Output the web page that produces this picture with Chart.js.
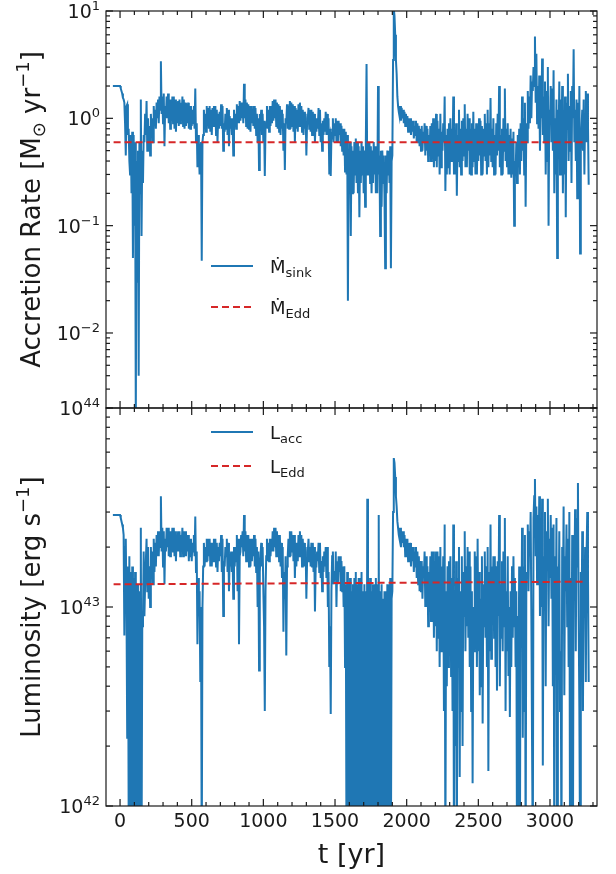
<!DOCTYPE html>
<html>
<head>
<meta charset="utf-8">
<script src="https://cdn.jsdelivr.net/npm/chart.js@4.4.0/dist/chart.umd.min.js"></script>
<style>
html, body { margin: 0; padding: 0; background: #fff; }
#wrap { position: relative; width: 616px; height: 874px; }
canvas { position: absolute; left: 0; top: 0; }
</style>
</head>
<body>
<div id="wrap">
  <canvas id="accChart" width="616" height="874"></canvas>
  <canvas id="lumChart" width="616" height="874"></canvas>
</div>
<script>
// time grid of the sink data [yr]
const T_START = -50, T_STEP = 5;

// accretion rate onto the sink [Msun/yr], one value every 5 yr (rows of 100 yr)
const mdotSink = [
  2.0,2.0,2.0,2.0,2.0,2.0,2.0,2.0,2.0,2.0,2.0,1.9,1.8,1.7,1.55,1.5,1.4,0.9,0.45,1.3,
  1.35,0.7,0.8,0.4,0.3,0.7,0.2,0.75,0.05,0.7,0.1,0.6,0.0015,0.4,0.03,0.5,0.004,0.6,0.2,1.5,
  0.08,0.5,0.25,0.7,0.6,1.1,0.7,1.45,0.5,1.0,0.55,0.85,0.45,1.1,0.7,1.0,0.6,1.3,0.9,1.2,
  0.8,1.4,1.0,1.5,0.9,1.6,1.2,3.4,1.1,1.6,0.9,1.7,0.55,1.3,1.0,1.6,1.0,1.7,0.9,1.5,
  0.8,1.5,0.95,1.6,0.9,1.6,0.8,1.5,0.75,1.4,0.9,1.45,0.85,1.5,0.9,1.4,1.0,1.6,0.85,1.5,
  0.8,1.4,0.85,1.35,0.9,1.4,0.8,1.3,0.8,1.3,0.85,1.2,0.9,1.3,0.8,1.9,0.6,0.9,0.35,0.7,
  0.5,0.3,0.45,0.6,0.047,0.6,0.7,1.2,0.8,1.1,0.75,1.3,0.85,1.25,0.8,1.3,0.75,1.2,0.7,1.25,
  0.85,1.3,0.9,1.3,0.7,1.2,0.6,1.1,0.8,1.15,0.85,1.35,0.8,1.3,0.5,0.9,0.75,1.1,0.8,1.25,
  0.7,1.2,0.55,1.05,0.8,1.0,0.7,1.0,0.45,1.2,0.85,1.1,0.8,1.35,0.9,1.3,0.9,1.45,0.95,1.4,
  1.0,1.4,0.9,2.1,1.0,1.5,0.85,1.4,0.8,1.35,0.8,1.3,0.75,1.3,0.9,1.2,0.85,1.3,0.8,1.25,
  0.7,1.1,0.6,1.0,0.33,1.1,0.9,1.2,0.7,1.1,0.6,0.95,0.29,0.8,0.9,1.3,0.8,1.2,0.75,1.3,
  0.85,1.3,0.9,1.45,0.95,1.5,1.0,1.5,0.85,1.4,0.8,1.35,0.75,1.3,0.7,1.2,0.8,1.1,0.5,0.9,
  0.33,1.0,0.9,1.35,0.8,1.3,0.8,1.45,0.8,1.4,0.85,1.35,0.75,1.3,0.6,1.25,0.8,1.2,0.75,1.35,
  0.85,1.4,0.9,1.3,0.75,1.2,0.7,1.15,0.8,1.1,0.45,0.9,1.0,1.25,0.8,1.2,0.75,1.2,0.7,1.15,
  0.7,1.1,0.6,1.0,0.75,1.0,0.8,1.25,0.7,1.2,0.6,0.9,0.5,0.95,0.7,1.0,0.75,1.15,0.7,1.1,
  0.7,1.0,0.3,0.8,0.29,0.7,0.65,1.0,0.6,0.9,0.7,1.0,0.6,0.95,0.6,0.95,0.7,0.9,0.55,0.85,
  0.5,0.8,0.45,0.8,0.32,0.75,0.3,0.7,0.02,0.5,0.25,0.6,0.08,0.55,0.2,0.5,0.2,0.6,0.3,0.65,
  0.25,0.6,0.2,0.55,0.12,0.5,0.25,0.6,0.3,0.55,0.2,0.5,0.15,0.6,3.2,0.3,0.6,0.4,0.6,0.25,
  0.55,0.2,0.5,0.25,0.6,0.3,0.55,0.2,0.45,0.2,2.0,0.3,0.45,0.08,0.5,0.15,0.5,0.25,0.45,0.2,
  0.04,0.45,0.2,0.5,0.3,0.5,0.25,0.55,0.04,0.4,0.45,3.5,10.5,9.0,6.0,3.5,2.6,1.6,1.3,1.15,
  1.05,1.3,0.95,1.25,1.0,1.2,0.9,1.15,0.85,1.1,0.85,1.05,0.75,1.0,0.8,1.0,0.7,0.95,0.75,0.95,
  0.65,0.85,0.7,0.95,0.6,0.9,0.6,0.85,0.55,0.8,0.5,0.85,0.5,0.75,0.6,0.9,0.45,0.85,0.5,0.8,
  0.4,0.7,0.45,0.85,0.4,0.9,0.5,1.0,0.35,0.8,0.4,1.1,0.35,0.95,0.45,0.8,0.3,1.1,0.35,0.75,
  0.5,0.9,0.6,1.6,0.21,0.7,0.3,0.8,0.35,0.9,0.3,1.0,0.4,0.8,0.45,1.6,0.3,0.75,0.3,0.9,
  0.19,0.7,0.4,1.2,0.35,0.8,0.3,0.95,0.4,1.0,0.45,1.35,0.35,0.8,0.35,1.1,0.5,1.0,0.3,0.8,
  0.3,0.9,0.35,1.15,0.4,0.8,0.3,0.9,0.3,0.75,0.4,1.0,0.45,0.95,0.3,0.85,0.3,0.8,0.45,1.1,
  0.4,0.9,0.3,1.2,0.35,0.9,0.45,1.55,0.4,0.8,0.35,1.0,0.3,0.7,0.3,0.9,0.45,1.1,0.5,2.0,
  0.35,0.7,0.3,0.8,0.3,1.0,0.5,1.9,0.4,0.8,0.35,0.9,0.3,0.7,0.3,0.8,0.28,0.65,0.3,0.75,
  0.1,0.4,0.3,0.6,0.25,0.7,0.35,0.8,0.3,0.9,0.4,1.6,0.5,1.0,0.3,1.4,0.15,0.9,0.6,1.8,
  0.8,1.6,0.9,2.5,1.0,2.2,1.8,3.0,2.0,5.8,1.4,4.0,0.9,2.0,0.8,2.5,0.5,1.5,1.0,3.6,
  0.7,1.6,0.6,2.2,0.3,1.8,0.4,3.0,0.1,1.2,0.9,2.0,0.6,1.9,0.5,2.8,0.2,1.0,0.3,1.5,
  0.05,1.2,0.6,2.2,0.3,1.5,0.5,2.0,0.2,1.1,0.3,1.6,0.12,1.4,0.8,2.6,0.4,1.3,0.5,1.8,
  0.25,2.0,1.0,4.4,0.6,1.2,0.4,1.5,0.18,1.4,0.3,2.0,0.055,0.5,0.8,1.2,0.5,1.5,0.3,1.1,
  1.8,0.6,1.7,0.9,0.24
];

// accretion luminosity [1e43 erg/s], same time grid
const lAcc = [
  2.9,2.9,2.9,2.9,2.9,2.9,2.9,2.9,2.9,2.9,2.9,2.8,2.7,2.6,2.5,2.3,0.72,2.0,2.2,1.0,
  0.22,1.6,0.1,1.8,0.05,1.5,0.08,1.6,0.05,1.4,0.07,1.5,0.05,1.3,0.06,1.3,0.05,1.2,0.1,2.5,
  0.05,0.8,0.9,1.9,0.9,1.3,1.3,2.2,1.2,2.0,1.1,1.6,1.0,2.0,1.4,1.9,1.3,2.2,1.5,2.1,
  1.6,2.3,1.8,2.4,1.8,2.4,2.0,3.6,1.9,2.5,1.6,2.4,1.3,2.2,1.9,2.5,2.0,2.5,1.8,2.4,
  1.8,2.4,1.9,2.5,1.9,2.5,1.8,2.4,1.7,2.3,1.9,2.4,1.9,2.4,1.8,2.3,2.0,2.5,1.8,2.4,
  1.8,2.4,1.8,2.3,1.9,2.3,1.7,2.2,1.8,2.2,1.7,2.1,1.9,2.3,1.8,2.85,1.5,1.9,0.65,1.4,
  0.9,1.2,0.42,1.0,0.05,1.0,1.6,2.1,1.6,2.0,1.7,2.2,1.7,2.2,1.8,2.2,1.6,2.1,1.6,2.1,
  1.7,2.2,1.9,2.2,1.6,2.1,1.5,2.0,1.7,2.1,1.8,2.3,1.5,2.2,0.9,1.7,1.6,2.0,1.8,2.2,
  1.5,2.1,1.2,1.8,1.6,1.9,1.5,1.9,1.1,2.0,1.6,2.0,1.7,2.3,1.2,2.2,0.65,1.8,1.9,2.3,
  2.0,2.4,1.8,2.9,1.9,2.4,1.7,2.3,1.7,2.3,1.6,2.2,1.6,2.2,1.7,2.1,1.8,2.3,1.6,2.2,
  1.5,2.0,1.0,1.9,0.48,1.5,1.8,2.1,1.6,2.0,1.2,0.8,0.3,1.2,1.8,2.2,1.7,2.1,1.7,2.2,
  1.8,2.2,1.9,2.4,1.9,2.5,2.0,2.5,1.8,2.4,1.8,2.3,1.7,2.3,1.6,2.1,1.4,2.0,0.75,1.5,
  1.1,1.8,0.57,1.6,1.8,2.2,1.8,2.4,1.8,2.4,1.9,2.3,1.7,2.3,1.4,2.1,1.6,2.1,1.7,2.3,
  1.8,2.4,1.9,2.3,1.6,2.2,1.6,2.1,1.6,2.0,1.1,1.7,1.9,2.2,1.7,2.0,1.6,2.1,1.6,2.1,
  1.5,2.0,0.95,1.6,1.6,1.9,1.7,2.1,1.5,2.1,1.4,1.7,1.2,1.8,1.5,1.9,1.6,2.0,1.4,2.0,
  1.0,1.5,0.5,0.8,0.29,1.2,1.8,1.9,1.3,1.4,1.5,1.9,1.0,1.7,1.3,1.8,1.5,1.8,1.2,1.7,
  1.2,1.6,1.0,1.6,0.5,1.3,0.06,1.5,0.05,1.3,0.05,1.4,0.05,1.2,0.06,1.3,0.06,1.4,0.05,1.5,
  0.05,1.3,0.05,1.4,0.05,1.4,0.06,1.5,0.07,1.2,0.05,1.3,0.05,1.2,0.05,3.5,0.05,1.3,0.05,1.4,
  0.05,1.2,0.05,1.3,0.06,1.3,0.05,1.4,0.05,1.3,0.05,2.9,0.05,1.2,0.05,1.3,0.05,1.1,0.05,1.2,
  0.05,1.2,0.05,1.3,0.06,1.3,0.05,1.4,0.05,1.1,1.2,3.0,5.6,5.3,4.5,3.6,3.2,2.7,2.5,2.3,
  2.2,2.5,2.0,2.4,2.1,2.4,2.0,2.3,1.8,2.2,1.9,2.2,1.7,2.1,1.8,2.1,1.6,2.0,1.7,2.0,
  1.5,1.9,1.6,2.0,1.4,1.9,1.3,1.8,1.2,1.7,1.2,1.7,1.1,1.6,1.4,1.9,1.0,1.8,1.0,1.6,
  0.8,1.5,0.95,1.8,0.85,1.9,0.9,1.9,0.7,1.7,0.8,1.9,0.6,1.9,0.7,1.8,0.5,2.0,0.6,1.6,
  0.9,1.8,0.3,2.6,0.05,1.2,0.4,1.6,0.5,1.7,0.6,1.8,0.45,1.4,0.3,2.6,0.05,1.2,0.2,1.7,
  0.05,1.4,0.5,2.0,0.14,1.2,0.3,1.8,0.2,1.5,0.9,2.4,0.6,1.6,0.8,2.0,0.7,1.9,0.5,1.6,
  0.3,1.2,0.13,1.0,0.6,1.9,0.8,1.8,0.5,2.2,0.6,1.5,0.36,1.1,0.4,1.8,0.26,1.3,0.8,1.9,
  0.7,1.6,0.5,2.0,0.15,1.5,0.6,2.6,0.55,1.6,0.9,1.8,0.7,1.8,0.5,1.6,0.38,1.7,0.9,2.9,
  0.4,1.3,0.7,1.7,0.6,1.9,0.8,2.8,0.3,1.2,0.6,1.8,0.45,1.0,0.28,1.2,0.5,1.6,0.7,1.8,
  0.8,1.4,0.5,1.2,0.05,0.9,0.3,1.6,0.05,1.4,0.7,2.5,0.22,1.6,0.3,2.3,0.05,1.5,1.4,2.6,
  1.2,2.4,1.8,3.0,0.9,0.2,0.05,2.8,3.6,4.4,1.8,3.2,1.3,2.9,1.5,3.6,0.9,2.6,1.0,3.5,
  0.16,1.8,1.3,3.0,0.4,2.4,1.6,3.5,0.8,2.2,1.4,2.9,1.1,2.5,0.4,2.6,0.05,1.8,0.6,2.8,
  0.05,1.6,0.9,2.4,0.3,0.6,0.05,2.0,1.0,3.2,0.36,1.8,1.2,2.6,0.8,2.2,0.5,3.0,0.05,1.4,
  0.4,2.3,0.05,2.0,1.2,3.1,0.6,2.8,1.6,4.2,0.9,0.3,0.05,1.5,0.8,2.4,0.3,1.4,0.9,2.0,
  0.42,1.8,3.0,1.5,0.42
];

// Eddington limits (two end points of the dashed lines)
const eddTimes = [-45, 3245];
const mdotEdd = [0.6, 0.6];
const lEdd = [1.30, 1.34];

// axis ticks
const xMajor = [0, 500, 1000, 1500, 2000, 2500, 3000];
const xMinor = [100,200,300,400,600,700,800,900,1100,1200,1300,1400,1600,1700,1800,1900,
                2100,2200,2300,2400,2600,2700,2800,2900,3100,3200,3300];
const accMajorExp = [-2, -1, 0, 1];
const lumMajorExp = [42, 43, 44];

const BLUE = '#1f77b4', RED = '#d62728', INK = '#1a1a1a';
const FONT = '"DejaVu Sans", sans-serif';

const times = mdotSink.map((_, i) => T_START + i * T_STEP);
const pts = (xs, ys) => ys.map((v, i) => ({ x: xs[i], y: v }));

function drawParts(ctx, parts, x, y, size, align) {
  const w = parts.map(p => {
    ctx.font = (p[1] === 'n' ? size : Math.round(size * 0.7)) + 'px ' + FONT;
    return ctx.measureText(p[0]).width;
  });
  const total = w.reduce((a, b) => a + b, 0);
  let cx = align === 'right' ? x - total : align === 'center' ? x - total / 2 : x;
  ctx.textAlign = 'left';
  ctx.textBaseline = 'alphabetic';
  parts.forEach((p, i) => {
    let dy = 0;
    if (p[1] === 'sup') dy = -size * 0.42;
    if (p[1] === 'sub') dy = size * 0.2;
    ctx.font = (p[1] === 'n' ? size : Math.round(size * 0.7)) + 'px ' + FONT;
    ctx.fillText(p[0], cx, y + dy);
    cx += w[i];
  });
}

function framePlugin(cfg) {
  return {
    id: 'frame',
    afterDatasetsDraw(chart) {
      const { ctx, chartArea: a, scales: { x, y } } = chart;
      ctx.save();
      ctx.strokeStyle = INK;
      ctx.fillStyle = INK;
      ctx.lineWidth = 1.2;
      const seg = (x1, y1, x2, y2) => { ctx.beginPath(); ctx.moveTo(x1, y1); ctx.lineTo(x2, y2); ctx.stroke(); };

      // x ticks, inward on bottom and top
      xMajor.forEach(v => { const p = x.getPixelForValue(v); seg(p, a.bottom, p, a.bottom - 7); seg(p, a.top, p, a.top + 7); });
      xMinor.forEach(v => { const p = x.getPixelForValue(v); if (p > a.right) return; seg(p, a.bottom, p, a.bottom - 4); seg(p, a.top, p, a.top + 4); });

      // y ticks, inward on left and right
      cfg.majorExp.forEach(e => {
        const p = y.getPixelForValue(Math.pow(10, e - cfg.expShift));
        seg(a.left, p, a.left + 7, p); seg(a.right, p, a.right - 7, p);
        drawParts(ctx, [['10', 'n'], [String(e).replace('-', '\u2212'), 'sup']], a.left - 6, p + 7, 19, 'right');
        for (let m = 2; m <= 9; m++) {
          const v = m * Math.pow(10, e - cfg.expShift);
          if (v < y.min || v > y.max) continue;
          const q = y.getPixelForValue(v);
          seg(a.left, q, a.left + 4, q); seg(a.right, q, a.right - 4, q);
        }
      });
      // minor ticks below the lowest labelled decade
      for (let m = 2; m <= 9; m++) {
        const v = m * Math.pow(10, cfg.majorExp[0] - 1 - cfg.expShift);
        if (v < y.min) continue;
        const q = y.getPixelForValue(v);
        seg(a.left, q, a.left + 4, q); seg(a.right, q, a.right - 4, q);
      }

      ctx.strokeRect(a.left, a.top, a.right - a.left, a.bottom - a.top);

      // y title
      ctx.save();
      ctx.translate(40, (a.top + a.bottom) / 2);
      ctx.rotate(-Math.PI / 2);
      drawParts(ctx, cfg.yTitle, 0, 0, 26, 'center');
      ctx.restore();

      // legend
      cfg.legend.forEach(item => {
        ctx.save();
        ctx.strokeStyle = item.color;
        ctx.lineWidth = 2;
        ctx.setLineDash(item.dash || []);
        seg(211, item.y, 253, item.y);
        ctx.restore();
        drawParts(ctx, item.text, 270, item.y + 7, 18, 'left');
      });

      // x labels (bottom panel only)
      if (cfg.xLabels) {
        ctx.textAlign = 'center';
        ctx.textBaseline = 'middle';
        ctx.font = '19px ' + FONT;
        xMajor.forEach(v => ctx.fillText(String(v), x.getPixelForValue(v), a.bottom + 16));
        ctx.font = '27px ' + FONT;
        ctx.fillText('t [yr]', (a.left + a.right) / 2, a.bottom + 50);
      }
      ctx.restore();
    }
  };
}

function makeChart(id, padding, series, edd, yMin, yMax, cfg) {
  return new Chart(document.getElementById(id), {
    type: 'line',
    data: {
      datasets: [
        { data: pts(eddTimes, edd), borderColor: RED, borderWidth: 2, borderDash: [7, 4], order: 0 },
        { data: pts(times, series), borderColor: BLUE, borderWidth: 2, order: 1 }
      ]
    },
    options: {
      responsive: false,
      animation: false,
      devicePixelRatio: 1,
      layout: { padding: padding },
      elements: { point: { radius: 0 }, line: { tension: 0 } },
      datasets: { line: { clip: 0 } },
      plugins: { legend: { display: false }, tooltip: { enabled: false } },
      scales: {
        x: { type: 'linear', min: -98, max: 3328, display: false },
        y: { type: 'logarithmic', min: yMin, max: yMax, display: false }
      }
    },
    plugins: [framePlugin(cfg)]
  });
}

makeChart('accChart', { left: 106, right: 19, top: 11, bottom: 466 }, mdotSink, mdotEdd, 0.002, 10, {
  majorExp: accMajorExp, expShift: 0, xLabels: false,
  yTitle: [['Accretion Rate [M', 'n'], ['\u2299', 'sub'], [' yr', 'n'], ['\u22121', 'sup'], [']', 'n']],
  legend: [
    { y: 266, color: BLUE, text: [['\u1E40', 'n'], ['sink', 'sub']] },
    { y: 307, color: RED, dash: [7, 4], text: [['\u1E40', 'n'], ['Edd', 'sub']] }
  ]
});

makeChart('lumChart', { left: 106, right: 19, top: 408, bottom: 68 }, lAcc, lEdd, 0.1, 10, {
  majorExp: lumMajorExp, expShift: 43, xLabels: true,
  yTitle: [['Luminosity [erg s', 'n'], ['\u22121', 'sup'], [']', 'n']],
  legend: [
    { y: 432, color: BLUE, text: [['L', 'n'], ['acc', 'sub']] },
    { y: 466, color: RED, dash: [7, 4], text: [['L', 'n'], ['Edd', 'sub']] }
  ]
});
</script>
</body>
</html>
